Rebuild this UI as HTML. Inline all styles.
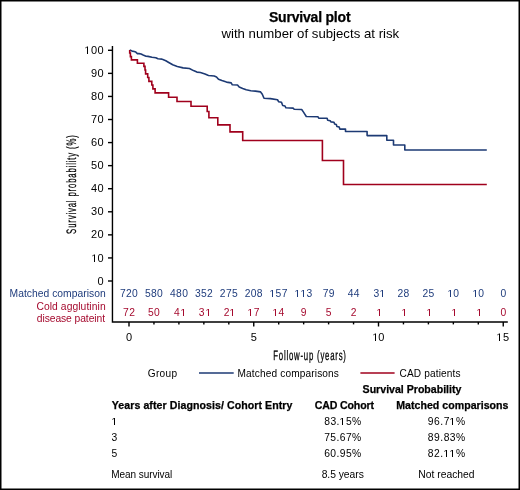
<!DOCTYPE html>
<html><head><meta charset="utf-8"><style>
html,body{margin:0;padding:0;background:#fff;}
body{width:520px;height:490px;overflow:hidden;}
svg{display:block;will-change:transform;}
text{font-family:"Liberation Sans",sans-serif;fill:#000;}
.cond{stroke:#000;text-rendering:geometricPrecision;}
</style></head><body>
<svg width="520" height="490" viewBox="0 0 520 490">
<rect x="0" y="0" width="520" height="490" fill="#fff"/>
<path d="M112.45,46.0 V322 H507.8" fill="none" stroke="#000" stroke-width="1.4"/>
<line x1="108.0" y1="281.00" x2="112.45" y2="281.00" stroke="#000" stroke-width="1.4"/>
<text x="97.412" y="285" style="font-size:11px;letter-spacing:0.300px;">0</text>
<line x1="108.0" y1="257.93" x2="112.45" y2="257.93" stroke="#000" stroke-width="1.4"/>
<text x="97.412" y="262" style="font-size:11px;">0</text>
<path d="M515,0L515,1237L197,1010L197,1180L530,1409L701.2,1409L701.2,0Z" transform="translate(91.234,262) scale(0.005371,-0.005371)" style="fill:#000"/>
<line x1="108.0" y1="234.86" x2="112.45" y2="234.86" stroke="#000" stroke-width="1.4"/>
<text x="90.994" y="238" style="font-size:11px;letter-spacing:0.300px;">20</text>
<line x1="108.0" y1="211.79" x2="112.45" y2="211.79" stroke="#000" stroke-width="1.4"/>
<text x="90.994" y="215" style="font-size:11px;letter-spacing:0.300px;">30</text>
<line x1="108.0" y1="188.72" x2="112.45" y2="188.72" stroke="#000" stroke-width="1.4"/>
<text x="90.994" y="192" style="font-size:11px;letter-spacing:0.300px;">40</text>
<line x1="108.0" y1="165.65" x2="112.45" y2="165.65" stroke="#000" stroke-width="1.4"/>
<text x="90.994" y="169" style="font-size:11px;letter-spacing:0.300px;">50</text>
<line x1="108.0" y1="142.58" x2="112.45" y2="142.58" stroke="#000" stroke-width="1.4"/>
<text x="90.994" y="146" style="font-size:11px;letter-spacing:0.300px;">60</text>
<line x1="108.0" y1="119.51" x2="112.45" y2="119.51" stroke="#000" stroke-width="1.4"/>
<text x="90.994" y="123" style="font-size:11px;letter-spacing:0.300px;">70</text>
<line x1="108.0" y1="96.44" x2="112.45" y2="96.44" stroke="#000" stroke-width="1.4"/>
<text x="90.994" y="100" style="font-size:11px;letter-spacing:0.300px;">80</text>
<line x1="108.0" y1="73.37" x2="112.45" y2="73.37" stroke="#000" stroke-width="1.4"/>
<text x="90.994" y="77" style="font-size:11px;letter-spacing:0.300px;">90</text>
<line x1="108.0" y1="50.30" x2="112.45" y2="50.30" stroke="#000" stroke-width="1.4"/>
<text x="90.994 97.412" y="54" style="font-size:11px;">00</text>
<path d="M515,0L515,1237L197,1010L197,1180L530,1409L701.2,1409L701.2,0Z" transform="translate(84.234,54) scale(0.005371,-0.005371)" style="fill:#000"/>
<line x1="129.00" y1="322" x2="129.00" y2="326.5" stroke="#000" stroke-width="1.4"/>
<text x="125.941" y="341" style="font-size:11px;letter-spacing:0.300px;">0</text>
<line x1="153.95" y1="322" x2="153.95" y2="324.4" stroke="#000" stroke-width="1.4"/>
<line x1="178.90" y1="322" x2="178.90" y2="324.4" stroke="#000" stroke-width="1.4"/>
<line x1="203.85" y1="322" x2="203.85" y2="324.4" stroke="#000" stroke-width="1.4"/>
<line x1="228.80" y1="322" x2="228.80" y2="324.4" stroke="#000" stroke-width="1.4"/>
<line x1="253.75" y1="322" x2="253.75" y2="326.5" stroke="#000" stroke-width="1.4"/>
<text x="250.702" y="341" style="font-size:11px;letter-spacing:0.300px;">5</text>
<line x1="278.70" y1="322" x2="278.70" y2="324.4" stroke="#000" stroke-width="1.4"/>
<line x1="303.65" y1="322" x2="303.65" y2="324.4" stroke="#000" stroke-width="1.4"/>
<line x1="328.60" y1="322" x2="328.60" y2="324.4" stroke="#000" stroke-width="1.4"/>
<line x1="353.55" y1="322" x2="353.55" y2="324.4" stroke="#000" stroke-width="1.4"/>
<line x1="378.50" y1="322" x2="378.50" y2="326.5" stroke="#000" stroke-width="1.4"/>
<text x="378.336" y="341" style="font-size:11px;">0</text>
<path d="M515,0L515,1237L197,1010L197,1180L530,1409L701.2,1409L701.2,0Z" transform="translate(372.234,341) scale(0.005371,-0.005371)" style="fill:#000"/>
<line x1="403.45" y1="322" x2="403.45" y2="324.4" stroke="#000" stroke-width="1.4"/>
<line x1="428.40" y1="322" x2="428.40" y2="324.4" stroke="#000" stroke-width="1.4"/>
<line x1="453.35" y1="322" x2="453.35" y2="324.4" stroke="#000" stroke-width="1.4"/>
<line x1="478.30" y1="322" x2="478.30" y2="324.4" stroke="#000" stroke-width="1.4"/>
<line x1="503.25" y1="322" x2="503.25" y2="326.5" stroke="#000" stroke-width="1.4"/>
<text x="503.102" y="341" style="font-size:11px;">5</text>
<path d="M515,0L515,1237L197,1010L197,1180L530,1409L701.2,1409L701.2,0Z" transform="translate(496.234,341) scale(0.005371,-0.005371)" style="fill:#000"/>
<text x="120.045" y="297" style="font-size:10.3px;fill:#1f3c7c;letter-spacing:0.300px;">720</text>
<text x="123.092" y="316" style="font-size:10.3px;fill:#a50a2e;letter-spacing:0.350px;">72</text>
<text x="145.052" y="297" style="font-size:10.3px;fill:#1f3c7c;letter-spacing:0.300px;">580</text>
<text x="148.042" y="316" style="font-size:10.3px;fill:#a50a2e;letter-spacing:0.350px;">50</text>
<text x="170.090" y="297" style="font-size:10.3px;fill:#1f3c7c;letter-spacing:0.300px;">480</text>
<text x="173.992" y="316" style="font-size:10.3px;fill:#a50a2e;">4</text>
<path d="M515,0L515,1237L197,1010L197,1180L530,1409L713.8,1409L713.8,0Z" transform="translate(180.410,316) scale(0.005029,-0.005029)" style="fill:#a50a2e"/>
<text x="195.020" y="297" style="font-size:10.3px;fill:#1f3c7c;letter-spacing:0.300px;">352</text>
<text x="198.864" y="316" style="font-size:10.3px;fill:#a50a2e;">3</text>
<path d="M515,0L515,1237L197,1010L197,1180L530,1409L713.8,1409L713.8,0Z" transform="translate(205.410,316) scale(0.005029,-0.005029)" style="fill:#a50a2e"/>
<text x="219.865" y="297" style="font-size:10.3px;fill:#1f3c7c;letter-spacing:0.300px;">275</text>
<text x="223.752" y="316" style="font-size:10.3px;fill:#a50a2e;">2</text>
<path d="M515,0L515,1237L197,1010L197,1180L530,1409L713.8,1409L713.8,0Z" transform="translate(229.410,316) scale(0.005029,-0.005029)" style="fill:#a50a2e"/>
<text x="244.822" y="297" style="font-size:10.3px;fill:#1f3c7c;letter-spacing:0.300px;">208</text>
<text x="253.689" y="316" style="font-size:10.3px;fill:#a50a2e;">7</text>
<path d="M515,0L515,1237L197,1010L197,1180L530,1409L713.8,1409L713.8,0Z" transform="translate(247.410,316) scale(0.005029,-0.005029)" style="fill:#a50a2e"/>
<text x="275.599 281.628" y="297" style="font-size:10.3px;fill:#1f3c7c;">57</text>
<path d="M515,0L515,1237L197,1010L197,1180L530,1409L713.8,1409L713.8,0Z" transform="translate(269.410,297) scale(0.005029,-0.005029)" style="fill:#1f3c7c"/>
<text x="278.530" y="316" style="font-size:10.3px;fill:#a50a2e;">4</text>
<path d="M515,0L515,1237L197,1010L197,1180L530,1409L713.8,1409L713.8,0Z" transform="translate(272.410,316) scale(0.005029,-0.005029)" style="fill:#a50a2e"/>
<text x="306.545" y="297" style="font-size:10.3px;fill:#1f3c7c;">3</text>
<path d="M515,0L515,1237L197,1010L197,1180L530,1409L713.8,1409L713.8,0Z" transform="translate(294.410,297) scale(0.005029,-0.005029)" style="fill:#1f3c7c"/>
<path d="M515,0L515,1237L197,1010L197,1180L530,1409L713.8,1409L713.8,0Z" transform="translate(300.410,297) scale(0.005029,-0.005029)" style="fill:#1f3c7c"/>
<text x="300.788" y="316" style="font-size:10.3px;fill:#a50a2e;letter-spacing:0.350px;">9</text>
<text x="322.702" y="297" style="font-size:10.3px;fill:#1f3c7c;letter-spacing:0.300px;">79</text>
<text x="325.746" y="316" style="font-size:10.3px;fill:#a50a2e;letter-spacing:0.350px;">5</text>
<text x="347.704" y="297" style="font-size:10.3px;fill:#1f3c7c;letter-spacing:0.300px;">44</text>
<text x="350.686" y="316" style="font-size:10.3px;fill:#a50a2e;letter-spacing:0.350px;">2</text>
<text x="373.539" y="297" style="font-size:10.3px;fill:#1f3c7c;">3</text>
<path d="M515,0L515,1237L197,1010L197,1180L530,1409L713.8,1409L713.8,0Z" transform="translate(379.410,297) scale(0.005029,-0.005029)" style="fill:#1f3c7c"/>
<path d="M515,0L515,1237L197,1010L197,1180L530,1409L713.8,1409L713.8,0Z" transform="translate(376.410,316) scale(0.005029,-0.005029)" style="fill:#a50a2e"/>
<text x="397.536" y="297" style="font-size:10.3px;fill:#1f3c7c;letter-spacing:0.300px;">28</text>
<path d="M515,0L515,1237L197,1010L197,1180L530,1409L713.8,1409L713.8,0Z" transform="translate(401.410,316) scale(0.005029,-0.005029)" style="fill:#a50a2e"/>
<text x="422.479" y="297" style="font-size:10.3px;fill:#1f3c7c;letter-spacing:0.300px;">25</text>
<path d="M515,0L515,1237L197,1010L197,1180L530,1409L713.8,1409L713.8,0Z" transform="translate(426.410,316) scale(0.005029,-0.005029)" style="fill:#a50a2e"/>
<text x="453.206" y="297" style="font-size:10.3px;fill:#1f3c7c;">0</text>
<path d="M515,0L515,1237L197,1010L197,1180L530,1409L713.8,1409L713.8,0Z" transform="translate(447.410,297) scale(0.005029,-0.005029)" style="fill:#1f3c7c"/>
<path d="M515,0L515,1237L197,1010L197,1180L530,1409L713.8,1409L713.8,0Z" transform="translate(451.410,316) scale(0.005029,-0.005029)" style="fill:#a50a2e"/>
<text x="478.156" y="297" style="font-size:10.3px;fill:#1f3c7c;">0</text>
<path d="M515,0L515,1237L197,1010L197,1180L530,1409L713.8,1409L713.8,0Z" transform="translate(472.410,297) scale(0.005029,-0.005029)" style="fill:#1f3c7c"/>
<path d="M515,0L515,1237L197,1010L197,1180L530,1409L713.8,1409L713.8,0Z" transform="translate(476.410,316) scale(0.005029,-0.005029)" style="fill:#a50a2e"/>
<text x="500.386" y="297" style="font-size:10.3px;fill:#1f3c7c;letter-spacing:0.300px;">0</text>
<text x="500.386" y="316" style="font-size:10.3px;fill:#a50a2e;letter-spacing:0.350px;">0</text>
<text x="9.555" y="297" style="font-size:10.3px;fill:#1f3c7c;letter-spacing:0.030px;">Matched comparison</text>
<text x="36.377" y="310" style="font-size:10.3px;fill:#a50a2e;letter-spacing:0.082px;">Cold agglutinin</text>
<text x="36.767" y="322" style="font-size:10.3px;fill:#a50a2e;letter-spacing:-0.070px;">disease pateint</text>
<path d="M129.7,50.1 L132.1,51.1 L134.2,51.5 L135.8,52.1 L137.4,53.6 L139.0,53.6 L141.1,54.0 L143.1,55.0 L146.0,56.2 L148.0,56.4 L152.0,57.3 L155.8,57.7 L158.0,58.8 L162.0,59.1 L162.9,59.6 L165.8,60.8 L169.2,62.8 L172.7,64.8 L177.3,66.5 L183.1,67.9 L189.4,68.5 L193.5,70.6 L196.9,72.1 L200.4,72.5 L205.0,74.0 L208.5,75.5 L214.2,76.0 L216.5,76.9 L218.5,79.2 L221.9,80.6 L226.5,82.1 L231.2,82.9 L232.3,84.8 L237.5,85.0 L239.2,87.1 L242.7,88.5 L246.2,89.8 L250.8,90.8 L255.4,91.1 L260.6,91.9 L262.3,94.2 L264.0,98.3 L270.4,98.6 L277.5,99.8 L278.7,101.7 L281.5,102.3 L282.7,105.5 L285.0,106.0 L285.9,107.8 L293.1,108.1 L294.2,109.2 L301.7,109.5 L303.5,112.1 L306.3,116.5 L317.9,116.7 L318.7,118.1 L327.1,118.2 L327.7,120.2 L330.2,120.8 L330.9,121.9 L334.0,122.2 L334.6,123.9 L336.3,124.5 L336.9,126.5 L339.2,127.1 L339.8,129.1 L345.5,129.1 L345.5,131.5 L367.1,131.5 L367.1,135.6 L386.8,135.6 L386.8,140.3 L393.5,140.3 L393.5,145.0 L404.8,145.0 L404.8,150.0 L486.8,150.0" fill="none" stroke="#1d3a74" stroke-width="1.6" stroke-linejoin="round"/>
<path d="M129.7,50.0 V53 H130.4 V56.6 H131.4 V59.9 H137.4 V63.2 H143.9 V66.4 H145 V70 H145.6 V73.9 H147.7 V77.5 H148.9 V81.4 H151.8 V85 H152.9 V88.9 H155.1 V92.9 H168.6 V97.3 H177.0 V101.5 H191.0 V106.3 H207.2 V111.5 H208.9 V117.8 H217.8 V124.9 H230.0 V131.9 H242.7 V140.5 H322.4 V160.55 H343.5 V184.55 H486.8" fill="none" stroke="#a0001c" stroke-width="1.6"/>
<text x="268.997" y="22" style="font-size:14.0px;font-weight:bold;stroke:#000;stroke-width:0.25px;letter-spacing:-0.204px;">Survival plot</text>
<text x="221.419" y="38" style="font-size:13.2px;letter-spacing:0.014px;">with number of subjects at risk</text>
<text class="cond" x="-86.499" y="0" style="font-size:13.7px;letter-spacing:1.441px;stroke-width:0.25px" transform="translate(75.9,184.60) rotate(-90) scale(0.57,1)">Survival probability (%)</text>
<text class="cond" x="-63.931" y="0" style="font-size:13.7px;letter-spacing:1.360px;stroke-width:0.3px" transform="translate(309.70,360) scale(0.57,1)">Follow-up (years)</text>
<text x="147.792" y="377" style="font-size:10.1px;letter-spacing:0.290px;">Group</text>
<line x1="199" y1="373.0" x2="233.7" y2="373.0" stroke="#1d3a74" stroke-width="1.4"/>
<text x="237.571" y="377" style="font-size:10.1px;letter-spacing:0.144px;">Matched comparisons</text>
<line x1="360.4" y1="373.0" x2="394.6" y2="373.0" stroke="#a0001c" stroke-width="1.4"/>
<text x="399.487" y="377" style="font-size:10.1px;letter-spacing:0.152px;">CAD patients</text>
<text x="362.595" y="393" style="font-size:10.6px;font-weight:bold;stroke:#000;stroke-width:0.25px;letter-spacing:-0.005px;">Survival Probability</text>
<text x="111.819" y="409" style="font-size:10.6px;font-weight:bold;stroke:#000;stroke-width:0.25px;letter-spacing:0.064px;">Years after Diagnosis/ Cohort Entry</text>
<text x="314.665" y="409" style="font-size:10.6px;font-weight:bold;stroke:#000;stroke-width:0.25px;letter-spacing:-0.142px;">CAD Cohort</text>
<text x="396.191" y="409" style="font-size:10.6px;font-weight:bold;stroke:#000;stroke-width:0.25px;letter-spacing:0.024px;">Matched comparisons</text>
<path d="M515,0L515,1237L197,1010L197,1180L530,1409L713.8,1409L713.8,0Z" transform="translate(111.410,425) scale(0.005029,-0.005029)" style="fill:#000"/>
<text x="324.252 330.397 336.542 345.964 352.109" y="425" style="font-size:10.3px;">83.5%</text>
<path d="M515,0L515,1237L197,1010L197,1180L530,1409L713.8,1409L713.8,0Z" transform="translate(339.410,425) scale(0.005029,-0.005029)" style="fill:#000"/>
<text x="427.817 434.049 440.281 443.645 456.109" y="425" style="font-size:10.3px;">96.7%</text>
<path d="M515,0L515,1237L197,1010L197,1180L530,1409L713.8,1409L713.8,0Z" transform="translate(449.410,425) scale(0.005029,-0.005029)" style="fill:#000"/>
<text x="111.408" y="441" style="font-size:10.3px;">3</text>
<text x="324.172" y="441" style="font-size:10.3px;letter-spacing:0.432px;">75.67%</text>
<text x="427.852" y="441" style="font-size:10.3px;letter-spacing:0.496px;">89.83%</text>
<text x="111.388" y="457" style="font-size:10.3px;">5</text>
<text x="324.177" y="457" style="font-size:10.3px;letter-spacing:0.431px;">60.95%</text>
<text x="427.852 434.077 440.302 456.109" y="457" style="font-size:10.3px;">82.%</text>
<path d="M515,0L515,1237L197,1010L197,1180L530,1409L713.8,1409L713.8,0Z" transform="translate(443.410,457) scale(0.005029,-0.005029)" style="fill:#000"/>
<path d="M515,0L515,1237L197,1010L197,1180L530,1409L713.8,1409L713.8,0Z" transform="translate(449.410,457) scale(0.005029,-0.005029)" style="fill:#000"/>
<text x="111.180" y="478" style="font-size:10.0px;letter-spacing:-0.050px;">Mean survival</text>
<text x="321.652" y="478" style="font-size:10.3px;letter-spacing:-0.018px;">8.5 years</text>
<text x="418.255" y="478" style="font-size:10.3px;letter-spacing:0.020px;">Not reached</text>
<rect x="0.75" y="0.75" width="518.5" height="488.5" fill="none" stroke="#000" stroke-width="1.5"/>
</svg>
</body></html>
